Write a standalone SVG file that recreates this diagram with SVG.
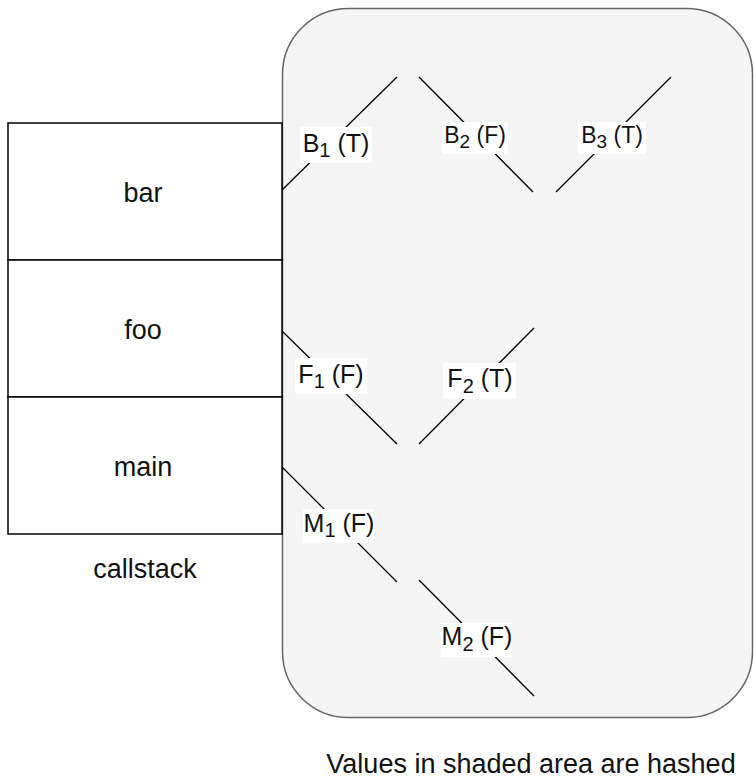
<svg xmlns="http://www.w3.org/2000/svg" width="754" height="778" viewBox="0 0 754 778">
  <style>
    .frame { fill: #f5f5f5; stroke: #666666; stroke-width: 1.5; }
    .box { fill: #ffffff; stroke: #000000; stroke-width: 1.5; }
    .lbl { font-family: "Liberation Sans", Arial, sans-serif; font-size: 27px; fill: #111111; text-anchor: middle; }
    .edge { stroke: #000000; stroke-width: 1.3; fill: none; }
    .elbg { fill: #ffffff; stroke: none; }
    .el { font-family: "Liberation Sans", Arial, sans-serif; font-size: 25px; fill: #111111; text-anchor: middle; }
    .el.small { font-size: 23px; }
  </style>

  <!-- hashed region -->
  <g id="shaded-area">
    <rect class="frame" x="282.5" y="8.5" width="470" height="709" rx="66" ry="66"/>
  </g>

  <!-- call stack frames -->
  <g id="frame-bar">
    <rect class="box" x="8" y="123" width="274" height="137"/>
    <text class="lbl" x="143" y="202">bar</text>
  </g>
  <g id="frame-foo">
    <rect class="box" x="8" y="260" width="274" height="137"/>
    <text class="lbl" x="143" y="339">foo</text>
  </g>
  <g id="frame-main">
    <rect class="box" x="8" y="397" width="274" height="137"/>
    <text class="lbl" x="143" y="476">main</text>
  </g>

  <!-- branch connectors -->
  <g id="connectors">
    <line class="edge" x1="282" y1="190" x2="397" y2="77"/>
    <line class="edge" x1="419" y1="77" x2="533" y2="192"/>
    <line class="edge" x1="556" y1="192" x2="671" y2="77"/>
    <line class="edge" x1="282" y1="331" x2="397" y2="444"/>
    <line class="edge" x1="419" y1="444" x2="534" y2="328"/>
    <line class="edge" x1="282" y1="467" x2="397" y2="582"/>
    <line class="edge" x1="419" y1="580" x2="534" y2="696"/>

    <rect class="elbg" x="300" y="127" width="72" height="36"/>
    <text class="el" x="336" y="152">B<tspan font-size="20" dy="5">1</tspan><tspan dy="-5"> (T)</tspan></text>

    <rect class="elbg" x="442" y="122" width="66" height="32"/>
    <text class="el small" x="475" y="143">B<tspan font-size="19" dy="5">2</tspan><tspan dy="-5"> (F)</tspan></text>

    <rect class="elbg" x="578" y="122" width="68" height="32"/>
    <text class="el small" x="612" y="143">B<tspan font-size="19" dy="5">3</tspan><tspan dy="-5"> (T)</tspan></text>

    <rect class="elbg" x="295" y="358" width="72" height="36"/>
    <text class="el" x="331" y="383">F<tspan font-size="20" dy="5">1</tspan><tspan dy="-5"> (F)</tspan></text>

    <rect class="elbg" x="443" y="363" width="73" height="36"/>
    <text class="el" x="480" y="387">F<tspan font-size="20" dy="6">2</tspan><tspan dy="-6"> (T)</tspan></text>

    <rect class="elbg" x="303" y="509" width="71" height="34"/>
    <text class="el" x="339" y="532">M<tspan font-size="20" dy="5">1</tspan><tspan dy="-5"> (F)</tspan></text>

    <rect class="elbg" x="441" y="623" width="71" height="34"/>
    <text class="el" x="477" y="645">M<tspan font-size="20" dy="6">2</tspan><tspan dy="-6"> (F)</tspan></text>
  </g>

  <!-- captions -->
  <g id="caption-callstack">
    <text class="lbl" x="145" y="578">callstack</text>
  </g>
  <g id="caption-hashed">
    <text class="lbl" x="531" y="773">Values in shaded area are hashed</text>
  </g>
</svg>
